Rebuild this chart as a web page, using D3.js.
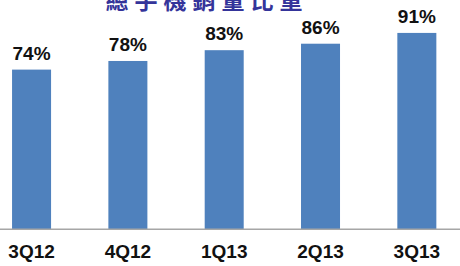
<!DOCTYPE html>
<html><head><meta charset="utf-8">
<script src="https://cdn.jsdelivr.net/npm/d3@7"></script>
<style>body{margin:0;background:#fff;}svg{display:block;}</style>
</head><body>
<script>
const title = "總手機銷量比重";
const categories = ["3Q12","4Q12","1Q13","2Q13","3Q13"];
const values = [74, 78, 83, 86, 91];

const W = 460, H = 266;
const svg = d3.select("body").append("svg").attr("width", W).attr("height", H);

const x = d3.scaleBand().domain(categories).range([-16.6, 465]).paddingInner(0.595).paddingOuter(0.2975);
const y = d3.scaleLinear().domain([0, 100]).range([229.3, 13.5]);

svg.append("text").attr("x", 207).attr("y", 8.5)
  .attr("text-anchor", "middle")
  .attr("font-family", "'Noto Sans CJK TC', sans-serif")
  .attr("font-weight", 700).attr("font-size", 23)
  .attr("letter-spacing", 6)
  .attr("fill", "#34349a").text(title);

svg.selectAll("rect.bar").data(values).join("rect").attr("class","bar")
  .attr("x", (d,i) => x(categories[i]))
  .attr("width", x.bandwidth())
  .attr("y", d => y(d))
  .attr("height", d => y(0) - y(d))
  .attr("fill", "#4f81bd");

svg.selectAll("text.val").data(values).join("text").attr("class","val")
  .attr("x", (d,i) => x(categories[i]) + x.bandwidth()/2)
  .attr("y", d => y(d) - 10)
  .attr("text-anchor", "middle")
  .attr("font-family", "'Liberation Sans', Arial, sans-serif")
  .attr("font-weight", 700).attr("font-size", 19)
  .attr("fill", "#111").text(d => d + "%");

const axis = d3.axisBottom(x).tickSize(0).tickPadding(12);
const g = svg.append("g").attr("transform", `translate(0,${y(0)})`).call(axis);
g.select(".domain").attr("d", `M0,0H${W}`).attr("stroke", "#a6a6a6").attr("stroke-width", 1.5);
g.selectAll("text")
  .attr("font-family", "'Liberation Sans', Arial, sans-serif")
  .attr("font-weight", 700).attr("font-size", 19).attr("fill", "#111")
  .attr("dy", null).attr("y", 29);
</script>
</body></html>
